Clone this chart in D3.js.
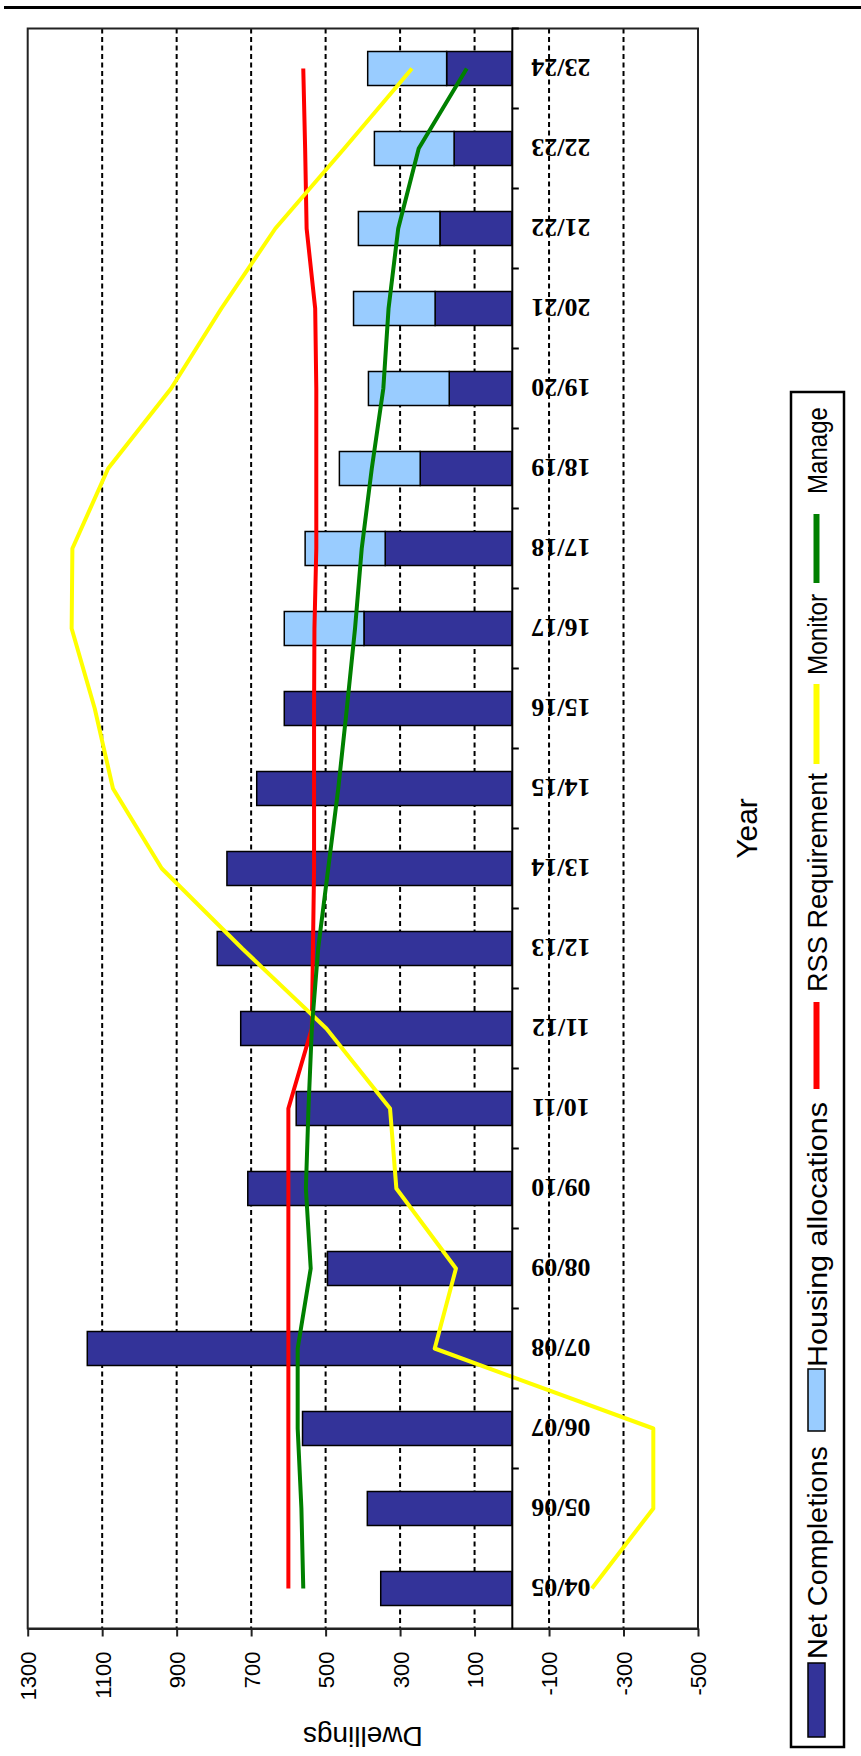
<!DOCTYPE html>
<html><head><meta charset="utf-8">
<script src="https://cdn.jsdelivr.net/npm/d3@7"></script>
<style>body{margin:0;background:#fff}svg{display:block}</style>
</head><body>
<svg id="c" width="861" height="1756"></svg>
<script>
const categories = ["04/05","05/06","06/07","07/08","08/09","09/10","10/11","11/12","12/13","13/14","14/15","15/16","16/17","17/18","18/19","19/20","20/21","21/22","22/23","23/24"];
const netCompletions = [352,388,562,1140,495,709,579,728,791,765,685,611,397,340,246,168,206,193,155,175];
const housingAllocations = [0,0,0,0,0,0,0,0,0,0,0,0,214,215,217,217,219,219,214,212];
const rssRequirement = [600,600,600,600,600,600,600,537,534,531,531,531,530,525,525,525,528,551,555,560];
const monitor = [-215,-380,-380,207,150,310,327,498,724,940,1071,1120,1182,1180,1084,915,780,635,450,268];
const manage = [560,565,575,575,540,553,546,537,520,493,466,443,421,403,376,345,331,305,250,121];
const valueTicks = [1300,1100,900,700,500,300,100,-100,-300,-500];
const gridValues = [1100,900,700,500,300,100,-100,-300];
const legendLabels = ["Net Completions","Housing allocations","RSS Requirement","Monitor","Manage"];

const svg = d3.select("#c");
const SANS = "'Liberation Sans', Arial, sans-serif";
const pLeft = 27.7, pRight = 698, pTop = 28.5, pBottom = 1628.5;

const x = d3.scaleLinear().domain([1300, -500]).range([pLeft, pRight]);
const y = d3.scaleBand().domain(categories).range([pBottom, pTop]).paddingInner(0.575).paddingOuter(0.2875);
const bw = y.bandwidth();
const cy = c => y(c) + bw / 2;

// top rule
svg.append("line").attr("x1", 4).attr("x2", 861).attr("y1", 7.5).attr("y2", 7.5)
  .attr("stroke", "#000").attr("stroke-width", 3);

// gridlines
svg.append("g").selectAll("line").data(gridValues).join("line")
  .attr("x1", d => x(d)).attr("x2", d => x(d)).attr("y1", pTop).attr("y2", pBottom)
  .attr("stroke", "#000").attr("stroke-width", 2).attr("stroke-dasharray", "5,3.5");

// bars
const stackData = categories.map((c, i) => ({c, net: netCompletions[i], alloc: housingAllocations[i]}));
svg.append("g").selectAll("rect").data(stackData).join("rect")
  .attr("x", d => x(d.net)).attr("width", d => x(0) - x(d.net))
  .attr("y", d => y(d.c)).attr("height", bw)
  .attr("fill", "#333399").attr("stroke", "#000").attr("stroke-width", 1.5);
svg.append("g").selectAll("rect").data(stackData.filter(d => d.alloc > 0)).join("rect")
  .attr("x", d => x(d.net + d.alloc)).attr("width", d => x(d.net) - x(d.net + d.alloc))
  .attr("y", d => y(d.c)).attr("height", bw)
  .attr("fill", "#99CCFF").attr("stroke", "#000").attr("stroke-width", 1.5);

// lines
const series = [
  {vals: rssRequirement, color: "#FF0000"},
  {vals: monitor, color: "#FFFF00"},
  {vals: manage, color: "#008000"}
];
const line = d3.line().x(d => x(d.v)).y(d => cy(d.c));
series.forEach(s => {
  svg.append("path").datum(categories.map((c, i) => ({c, v: s.vals[i]})))
    .attr("d", line).attr("fill", "none").attr("stroke", s.color)
    .attr("stroke-width", 4).attr("stroke-linejoin", "round");
});

// plot frame
svg.append("rect").attr("x", pLeft).attr("y", pTop).attr("width", pRight - pLeft).attr("height", pBottom - pTop)
  .attr("fill", "none").attr("stroke", "#222").attr("stroke-width", 2);

// value axis
const xAxis = svg.append("g").attr("transform", `translate(0,${pBottom})`)
  .call(d3.axisBottom(x).tickValues(valueTicks).tickSize(8).tickSizeOuter(0).tickFormat(d => String(d)));
xAxis.select(".domain").attr("stroke", "#222").attr("stroke-width", 2);
xAxis.selectAll(".tick line").attr("stroke", "#222").attr("stroke-width", 2);
xAxis.selectAll(".tick text")
  .attr("transform", "rotate(-90)").attr("x", -23).attr("y", 0).attr("dy", "0.36em")
  .style("text-anchor", "end").style("font-family", SANS).style("font-size", "22px").attr("fill", "#000");

// category axis at zero
const yAxis = svg.append("g").attr("transform", `translate(${x(0)},0)`)
  .call(d3.axisRight(y).tickSize(0).tickSizeOuter(0));
yAxis.select(".domain").attr("stroke", "#000").attr("stroke-width", 2);
yAxis.selectAll(".tick text")
  .attr("transform", "translate(49,0) rotate(180)").attr("x", 0).attr("dy", "0.35em")
  .style("text-anchor", "middle").style("font-family", "'Liberation Serif', 'Times New Roman', serif")
  .style("font-weight", "bold").style("font-size", "26px").attr("fill", "#000");
const step = y.step();
const bounds = categories.map(c => cy(c) - step / 2).concat([cy(categories[0]) + step / 2]);
yAxis.append("g").selectAll("line").data(bounds.slice(1, -1)).join("line")
  .attr("x1", 0).attr("x2", 7).attr("y1", d => d).attr("y2", d => d)
  .attr("stroke", "#000").attr("stroke-width", 2);

// axis titles
svg.append("text").attr("transform", `translate(${(pLeft + pRight) / 2},1737) rotate(180)`)
  .attr("dy", "0.35em").attr("text-anchor", "middle")
  .style("font-family", SANS).style("font-size", "28px").text("Dwellings");
svg.append("text").attr("transform", `translate(746,${(pTop + pBottom) / 2}) rotate(-90)`)
  .attr("dy", "0.36em").attr("text-anchor", "middle")
  .style("font-family", SANS).style("font-size", "30px").text("Year");

// legend
svg.append("rect").attr("x", 791).attr("y", 392).attr("width", 53).attr("height", 1355)
  .attr("fill", "#fff").attr("stroke", "#000").attr("stroke-width", 2.5);
const lx = 816.5;
const legendItems = [
  {type: "rect", color: "#333399", s0: 1737, s1: 1663, t0: 1659, t1: 1446},
  {type: "rect", color: "#99CCFF", s0: 1431, s1: 1369, t0: 1367, t1: 1102},
  {type: "line", color: "#FF0000", s0: 1089, s1: 1002, t0: 992, t1: 773},
  {type: "line", color: "#FFFF00", s0: 764, s1: 684, t0: 675, t1: 594},
  {type: "line", color: "#008000", s0: 583, s1: 514, t0: 494, t1: 407}
];
legendItems.forEach((it, i) => {
  if (it.type === "rect") {
    svg.append("rect").attr("x", lx - 8.5).attr("y", it.s1).attr("width", 17).attr("height", it.s0 - it.s1)
      .attr("fill", it.color).attr("stroke", "#000").attr("stroke-width", 1.5);
  } else {
    svg.append("line").attr("x1", lx).attr("x2", lx).attr("y1", it.s0).attr("y2", it.s1)
      .attr("stroke", it.color).attr("stroke-width", 6);
  }
  svg.append("text").attr("transform", `translate(${lx},${it.t0}) rotate(-90)`)
    .attr("dy", "0.36em").attr("text-anchor", "start")
    .attr("textLength", it.t0 - it.t1).attr("lengthAdjust", "spacingAndGlyphs")
    .style("font-family", SANS).style("font-size", "28px").text(legendLabels[i]);
});
</script>
</body></html>
